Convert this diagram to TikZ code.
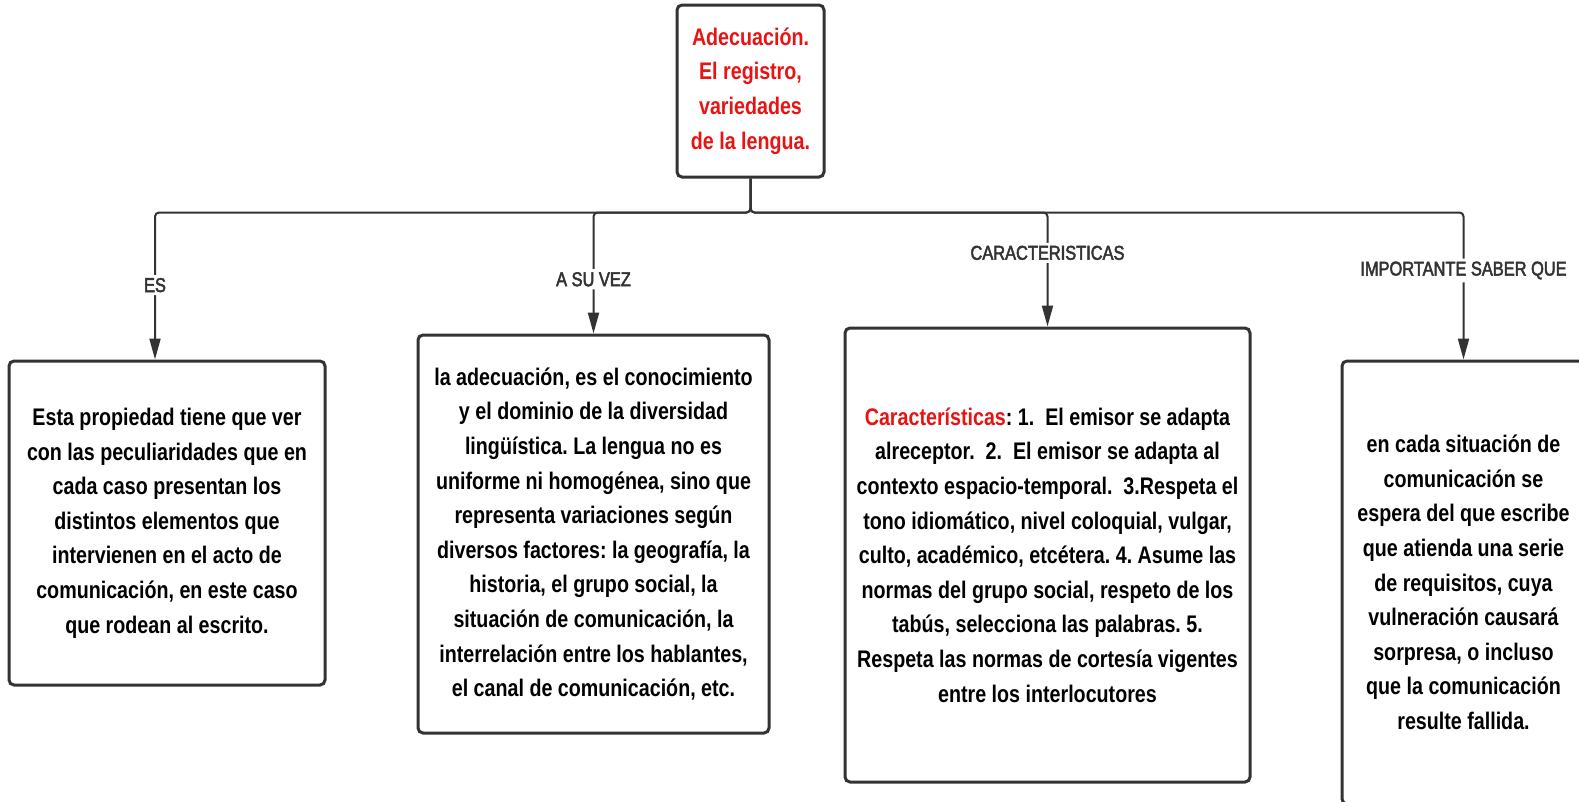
\documentclass[tikz,border=0pt]{standalone}
\usepackage{fontspec}
\setmainfont{Liberation Sans}[FakeStretch=0.82]
\newfontfamily\tagfont{Liberation Sans}[FakeStretch=0.82, FakeBold=2.5]
\usepackage{xcolor}
\usepackage{tikz}
\usetikzlibrary{
    calc,
    positioning,
    arrows.meta
}
\definecolor{linegray}{HTML}{333333}
\definecolor{titlered}{HTML}{E81313}
\frenchspacing
\tikzset{
    box/.style = {
        draw=linegray,
        rectangle,
        rounded corners=5pt,
        line width=3pt,
        inner sep=0pt,
        align=center,
        font=\fontsize{24}{34.6}\selectfont\bfseries
    },
    link/.style = {
        draw=linegray,
        line width=2pt,
        rounded corners=4pt,
        -{Triangle[length=21pt, width=11pt]}
    },
    tag/.style = {
        fill=white,
        text=linegray,
        inner sep=3pt,
        font=\fontsize{20}{24}\tagfont
    }
}

\begin{document}
\begin{tikzpicture}[x=1pt, y=-1pt]
        \useasboundingbox (0,0) rectangle (1579,801);

        \node[box, text=titlered, minimum width=147pt, minimum height=172pt] (root) at (750.5,91)
            {Adecuación.\\El registro,\\variedades\\de la lengua.};

        \node[box, minimum width=316pt, minimum height=324pt] (es) at (167,523)
            {Esta propiedad tiene que ver\\con las peculiaridades que en\\cada caso presentan los\\distintos elementos que\\intervienen en el acto de\\comunicación, en este caso\\que rodean al escrito.};
        \node[box, minimum width=351pt, minimum height=398pt] (asuvez) at (593.5,534)
            {la adecuación, es el conocimiento\\y el dominio de la diversidad\\lingüística. La lengua no es\\uniforme ni homogénea, sino que\\representa variaciones según\\diversos factores: la geografía, la\\historia, el grupo social, la\\situación de comunicación, la\\interrelación entre los hablantes,\\el canal de comunicación, etc.};
        \node[box, minimum width=405pt, minimum height=454pt] (carac) at (1047.5,555)
            {\textcolor{titlered}{Características}: 1.\ \ El emisor se adapta\\alreceptor.\ \ 2.\ \ El emisor se adapta al\\contexto espacio-temporal.\ \ 3.Respeta el\\tono idiomático, nivel coloquial, vulgar,\\culto, académico, etcétera. 4. Asume las\\normas del grupo social, respeto de los\\tabús, selecciona las palabras. 5.\\Respeta las normas de cortesía vigentes\\entre los interlocutores};
        \node[box, minimum width=243pt, minimum height=443pt] (importante) at (1463.5,582.5)
            {en cada situación de\\comunicación se\\espera del que escribe\\que atienda una serie\\de requisitos, cuya\\vulneración causará\\sorpresa, o incluso\\que la comunicación\\resulte fallida.};

        \coordinate (split) at (750.5,212.5);

        \draw[link] (root.south) -- (split) -| node[tag, pos=0.747] {ES} ([xshift=-12pt]es.north);
        \draw[link] (root.south) -- (split) -| node[tag, pos=0.776] {A SU VEZ} (asuvez.north);
        \draw[link] (root.south) -- (split) -| node[tag, pos=0.677] {CARACTERISTICAS} (carac.north);
        \draw[link] (root.south) -- (split) -| node[tag, pos=0.697] {IMPORTANTE SABER QUE} (importante.north);
    \end{tikzpicture}
\end{document}
